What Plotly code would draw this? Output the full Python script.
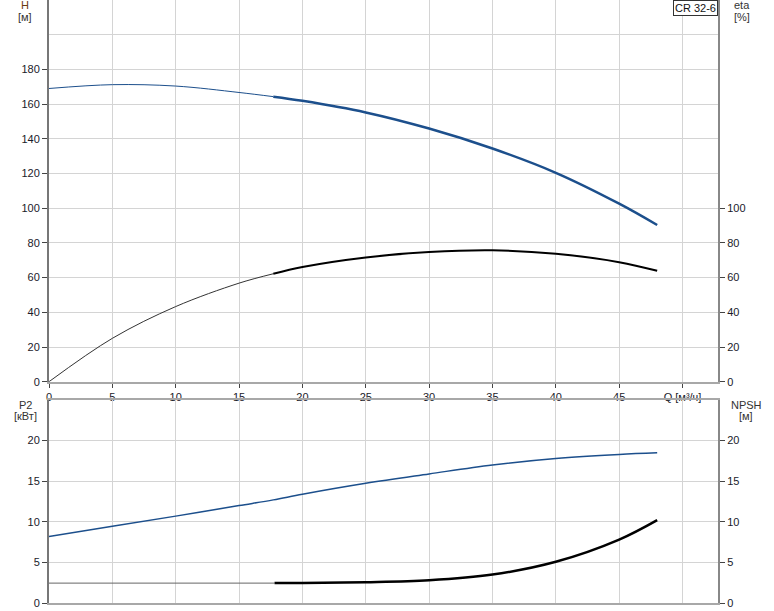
import plotly.graph_objects as go

# ---- data ----
Q = [0, 5, 10, 15, 17.7, 20, 25, 30, 35, 40, 45, 48]
H = [169.0, 171.2, 170.4, 166.7, 164.3, 161.9, 155.2, 145.9, 134.4, 120.4, 102.6, 90.3]
ETA = [0, 25.0, 43.3, 56.8, 62.2, 66.1, 71.6, 74.7, 75.7, 73.7, 68.9, 63.9]
P2 = [8.2, 9.44, 10.7, 12.0, 12.7, 13.4, 14.75, 15.9, 17.0, 17.8, 18.3, 18.5]
NPSH_Q = [0, 17.8, 20, 25, 30, 35, 40, 45, 48]
NPSH = [2.45, 2.45, 2.46, 2.56, 2.8, 3.5, 5.07, 7.8, 10.2]
SPLIT = 4        # index in Q where the thick (duty) range begins
NPSH_SPLIT = 1   # index in NPSH_Q where the thick range begins

X_TICKS = [0, 5, 10, 15, 20, 25, 30, 35, 40, 45, 50]
X_TEXT = ["0", "5", "10", "15", "20", "25", "30", "35", "40", "45", "Q [м³/ч]"]
H_TICKS = [0, 20, 40, 60, 80, 100, 120, 140, 160, 180]
ETA_TICKS = [0, 20, 40, 60, 80, 100]
P_TICKS = [0, 5, 10, 15, 20]
TITLE = "CR 32-6"

BLUE = "#1c4f8c"
GRID = "#d4d4d4"
W, HGT = 774, 611
ML, MR, MT, MB = 49, 56, 0, 8
PH = HGT - MT - MB

fig = go.Figure()
# H curve
fig.add_trace(go.Scatter(x=Q[:SPLIT + 1], y=H[:SPLIT + 1], mode="lines",
                         line=dict(color=BLUE, width=1, shape="spline"), xaxis="x", yaxis="y"))
fig.add_trace(go.Scatter(x=Q[SPLIT:], y=H[SPLIT:], mode="lines",
                         line=dict(color=BLUE, width=2.5, shape="spline"), xaxis="x", yaxis="y"))
# eta curve
fig.add_trace(go.Scatter(x=Q[:SPLIT + 1], y=ETA[:SPLIT + 1], mode="lines",
                         line=dict(color="#333333", width=1, shape="spline"), xaxis="x", yaxis="y2"))
fig.add_trace(go.Scatter(x=Q[SPLIT:], y=ETA[SPLIT:], mode="lines",
                         line=dict(color="black", width=2, shape="spline"), xaxis="x", yaxis="y2"))
# P2 curve
fig.add_trace(go.Scatter(x=Q, y=P2, mode="lines",
                         line=dict(color=BLUE, width=1.5, shape="spline"), xaxis="x2", yaxis="y3"))
# NPSH curve
fig.add_trace(go.Scatter(x=NPSH_Q[:NPSH_SPLIT + 1], y=NPSH[:NPSH_SPLIT + 1], mode="lines",
                         line=dict(color="#666666", width=1), xaxis="x2", yaxis="y4"))
fig.add_trace(go.Scatter(x=NPSH_Q[NPSH_SPLIT:], y=NPSH[NPSH_SPLIT:], mode="lines",
                         line=dict(color="black", width=2.5, shape="spline"), xaxis="x2", yaxis="y4"))

top_lo = (PH - 381.7) / PH
bot_hi = (PH - 400) / PH

tickfont = dict(family="Arial", size=11, color="#1a1a2a")
common_x = dict(range=[0, 52.8], tickmode="array", tickvals=X_TICKS, showgrid=True, gridcolor=GRID,
                gridwidth=1, showline=True, linecolor="#a8a8a8", linewidth=2,
                ticklen=4, tickcolor="#444", zeroline=False, tickfont=tickfont, fixedrange=True)

fig.update_layout(
    width=W, height=HGT,
    margin=dict(l=ML, r=MR, t=MT, b=MB),
    plot_bgcolor="white", paper_bgcolor="white", showlegend=False,
    font=dict(family="Arial", size=11, color="#222"),
    xaxis=dict(common_x, domain=[0, 1], anchor="y", ticktext=X_TEXT, ticks="outside"),
    xaxis2=dict(common_x, domain=[0, 1], anchor="y3", showticklabels=False, mirror=True, ticks=""),
    yaxis=dict(domain=[top_lo, 1], range=[0, 220], tickmode="array", tickvals=H_TICKS,
               showgrid=True, gridcolor=GRID, showline=True, linecolor="#777", linewidth=2,
               ticks="outside", ticklen=5, tickcolor="#444", zeroline=False, tickfont=tickfont,
               minor=dict(tickmode="array", tickvals=[200], showgrid=True, gridcolor=GRID, ticks="")),
    yaxis2=dict(overlaying="y", side="right", anchor="x", range=[0, 220], tickmode="array",
                tickvals=ETA_TICKS, showgrid=False, showline=True, linecolor="#888", linewidth=2,
                ticks="outside", ticklen=5, tickcolor="#444", zeroline=False, tickfont=tickfont),
    yaxis3=dict(domain=[0, bot_hi], anchor="x2", range=[0, 25], tickmode="array", tickvals=P_TICKS,
                showgrid=True, gridcolor=GRID, showline=True, linecolor="#777", linewidth=2,
                ticks="outside", ticklen=5, tickcolor="#444", zeroline=False, tickfont=tickfont),
    yaxis4=dict(overlaying="y3", side="right", anchor="x2", range=[0, 25], tickmode="array",
                tickvals=P_TICKS, showgrid=False, showline=True, linecolor="#888", linewidth=2,
                ticks="outside", ticklen=5, tickcolor="#444", zeroline=False, tickfont=tickfont),
)


def px_ann(text, px, py, color="#333"):
    fig.add_annotation(text=text, xref="paper", yref="paper",
                       x=(px - ML) / (W - ML - MR), y=(PH - (py - MT)) / PH,
                       xanchor="center", yanchor="middle", showarrow=False,
                       font=dict(family="Arial", size=11, color=color))


px_ann("H", 25, 5, "#6a3a10")
px_ann("[м]", 25, 17)
px_ann("eta", 742, 5)
px_ann("[%]", 742, 17)
px_ann("P2", 25, 404.5)
px_ann("[кВт]", 25, 416)
px_ann("NPSH", 746, 404.5)
px_ann("[м]", 746, 416)

fig.add_annotation(text=TITLE, xref="paper", yref="paper", x=1, y=1, xanchor="right", yanchor="top",
                   showarrow=False, bgcolor="white", bordercolor="#333", borderwidth=1, borderpad=1,
                   font=dict(family="Arial", size=11, color="#111"))

fig.write_html("out.html", config={"displayModeBar": False},
               post_script="document.body.style.margin='0';document.body.style.overflow='hidden';")
